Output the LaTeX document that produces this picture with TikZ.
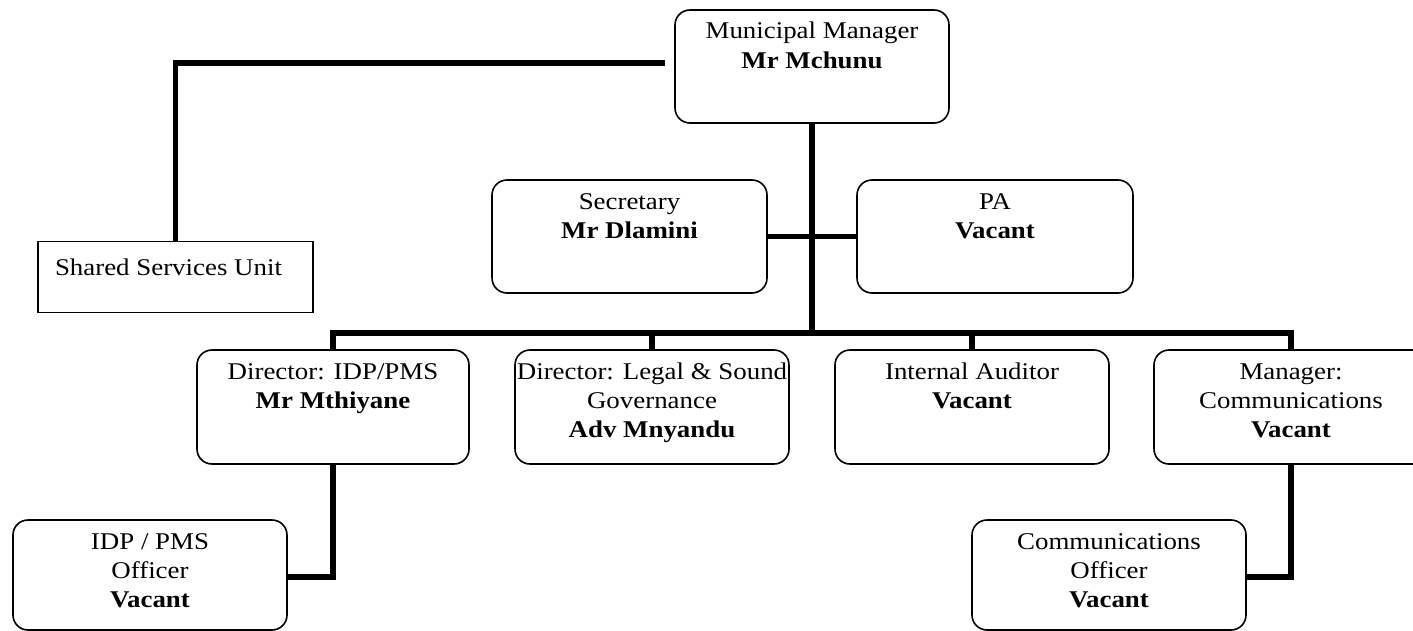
\documentclass[tikz,border=0pt]{standalone}
\usepackage{fontspec}
\setmainfont{Liberation Serif}[FakeStretch=1.12]
\newcommand{\bxt}[4][14.5pt]{\parbox[c][#3][t]{#2}{\centering\fontsize{12}{14.5}\selectfont\rule{0pt}{#1}#4}}
\begin{document}
\begin{tikzpicture}[x=0.5pt,y=-0.5pt,
  rbox/.style={draw,line width=0.8pt,rounded corners=7.5pt,inner sep=0pt,fill=white},
  sbox/.style={draw,line width=0.8pt,inner sep=0pt,fill=white},
  conn/.style={line width=2.8pt,line join=miter}]
\useasboundingbox[fill=white] (0,0) rectangle (1413,631);
\coordinate (busy) at (0,333);
\coordinate (mmleft) at (665,63);
% nodes
\node[rbox] (mm) at (812,66.5) {\bxt{137pt}{56.5pt}{Municipal Manager\\\textbf{Mr Mchunu}}};
\node[sbox] (ssu) at (175.5,277) {\bxt[17pt]{137.5pt}{35.5pt}{\hspace*{-7pt}Shared Services Unit}};
\node[rbox] (sec) at (629.5,236.5) {\bxt{137.5pt}{56.5pt}{Secretary\\\textbf{Mr Dlamini}}};
\node[rbox] (pa) at (995,236.5) {\bxt{138pt}{56.5pt}{PA\\\textbf{Vacant}}};
\node[rbox] (dir1) at (333,407) {\bxt{136pt}{57pt}{Director: IDP/PMS\\\textbf{Mr Mthiyane}}};
\node[rbox] (dir2) at (652,407) {\bxt{137pt}{57pt}{Director: Legal \& Sound\\Governance\\\textbf{Adv Mnyandu}}};
\node[rbox] (dir3) at (972,407) {\bxt{137pt}{57pt}{Internal Auditor\\\textbf{Vacant}}};
\node[rbox] (dir4) at (1291,407) {\bxt{137pt}{57pt}{Manager:\\Communications\\\textbf{Vacant}}};
\node[rbox] (idpo) at (150,575) {\bxt{137pt}{55pt}{IDP / PMS\\Officer\\\textbf{Vacant}}};
\node[rbox] (como) at (1109,575) {\bxt{137pt}{55pt}{Communications\\Officer\\\textbf{Vacant}}};
% connectors
\draw[conn] (mm.south) -- (mm.south |- busy);
\draw[conn] (dir1.north) -- (dir1.north |- busy) -- (dir4.north |- busy) -- (dir4.north);
\draw[conn] (dir2.north) -- (dir2.north |- busy);
\draw[conn] (dir3.north) -- (dir3.north |- busy);
\draw[conn] (sec.east) -- (pa.west);
\draw[conn] (mmleft) -| (ssu.north);
\draw[conn] (dir1.south) |- ([yshift=-1pt]idpo.east);
\draw[conn] (dir4.south) |- ([yshift=-1pt]como.east);
\end{tikzpicture}
\end{document}
